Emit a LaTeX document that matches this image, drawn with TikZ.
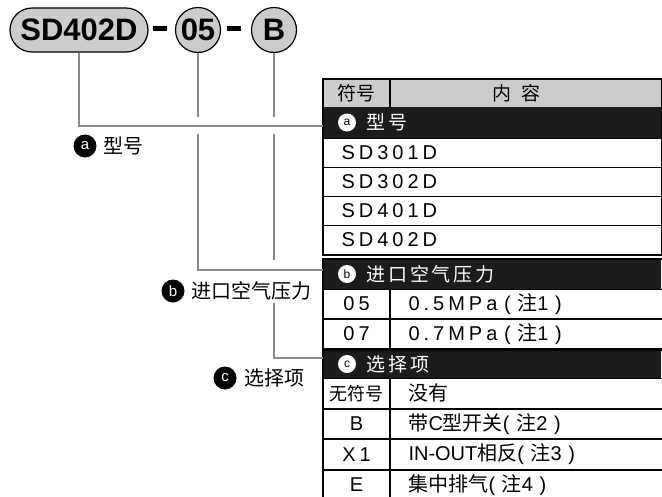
\documentclass[tikz,border=0pt]{standalone}
\usepackage{fontspec}
\setmainfont{Liberation Sans}
\newfontfamily\cjk{Noto Sans CJK SC}
\newfontfamily\cjkwide[LetterSpace=15]{Noto Sans CJK SC}
\newfontfamily\wide[LetterSpace=20]{Liberation Sans}
\usetikzlibrary{positioning}
\definecolor{capgray}{HTML}{CCCCCC}
\definecolor{leadgray}{HTML}{8A8A8A}
\definecolor{bandblack}{HTML}{1C1C1C}

\begin{document}
\begin{tikzpicture}[
  x=1pt, y=-1pt,
  capsule/.style={draw, line width=1.2pt, fill=capgray, rounded corners=22pt,
    minimum width=138pt, minimum height=44pt, inner sep=0pt,
    font=\fontsize{31}{31}\selectfont\bfseries},
  ring/.style={draw, circle, line width=1.2pt, fill=capgray, minimum size=45pt,
    inner sep=0pt, font=\fontsize{31}{31}\selectfont\bfseries},
  dashbar/.style={fill=black, minimum width=14pt, minimum height=5pt, inner sep=0pt},
  lead/.style={draw=leadgray, line width=2pt},
  tag/.style={circle, fill=black, text=white, minimum size=23pt, inner sep=0pt,
    font=\fontsize{15}{15}\selectfont},
  tagtext/.style={inner sep=0pt, font=\cjk\fontsize{20}{20}\selectfont},
  hcell/.style={draw, line width=1pt, fill=capgray, minimum height=28pt,
    inner sep=0pt, anchor=north west, font=\cjk\fontsize{19}{19}\selectfont},
  band/.style={fill=bandblack, minimum width=338pt, inner sep=0pt, anchor=north west},
  wtag/.style={circle, fill=white, minimum size=18pt, inner sep=0pt,
    font=\fontsize{12}{12}\selectfont},
  bandtext/.style={text=white, inner sep=0pt, font=\cjkwide\fontsize{19}{19}\selectfont},
  cell/.style={draw, line width=1pt, minimum height=29pt, inner sep=0pt,
    anchor=north west, font=\fontsize{20}{20}\selectfont},
  code/.style={cell, minimum width=66pt},
  item/.style={cell, minimum width=272pt, text width=236pt, align=left},
  outline/.style={draw, line width=2.4pt},
]
\useasboundingbox (0,0) rectangle (662,496);

% model code on top
\node[capsule] (model) at (79,30) {SD402D};
\node[dashbar] (d1) at (160,28) {};
\node[ring] (pres) at (198,30) {05};
\node[dashbar] (d2) at (234,28) {};
\node[ring] (opt) at (274,30) {B};

% labels on the left
\node[tag] (ta) at (85,146) {a};
\node[tagtext, right=7pt of ta] (la) {型号};
\node[tag] (tb) at (173,291) {b};
\node[tagtext, right=7pt of tb] (lb) {进口空气压力};
\node[tag] (tc) at (225,378) {c};
\node[tagtext, right=8pt of tc] (lc) {选择项};

% table a
\node[hcell, minimum width=66pt] (h1) at (323,79) {符号};
\node[hcell, minimum width=272pt] (h2) at (h1.north east) {\hspace*{-20pt}内\hspace{11pt}容};
\node[band, minimum height=31pt] (hdrA) at (323,107) {};
\node[wtag] (wa) at (347,122.5) {a};
\node[bandtext, right=10pt of wa] (ba) {型号};
\foreach \t [count=\i] in {SD301D,SD302D,SD401D,SD402D}
  \node[cell, minimum width=338pt, text width=302pt, align=left] (ra\i) at (323,109+29*\i) {\wide \t};
\draw[outline] (h1.north west) rectangle (ra4.south east);

% table b
\node[band, minimum height=30pt] (hdrB) at (323,259) {};
\node[wtag] (wb) at (347,274) {b};
\node[bandtext, right=10pt of wb] (bb) {进口空气压力};
\node[code] (rb1a) at (323,289) {\wide 05};
\node[item] (rb1b) at (rb1a.north east) {\wide 0.5MPa ( \cjk 注\wide 1 )};
\node[code] (rb2a) at (rb1a.south west) {\wide 07};
\node[item] (rb2b) at (rb2a.north east) {\wide 0.7MPa ( \cjk 注\wide 1 )};
\draw[outline] (hdrB.north west) rectangle (rb2b.south east);

% table c
\node[band, minimum height=28pt] (hdrC) at (323,350) {};
\node[wtag] (wc) at (347,364) {c};
\node[bandtext, right=10pt of wc] (bc) {选择项};
\node[code, minimum height=29.5pt] (rc1a) at (323,378) {\cjk\fontsize{18}{18}\selectfont 无符号};
\node[item, minimum height=29.5pt] (rc1b) at (rc1a.north east) {\cjk 没有};
\node[code, minimum height=29.5pt] (rc2a) at (rc1a.south west) {B};
\node[item, minimum height=29.5pt] (rc2b) at (rc2a.north east) {\cjk 带\rmfamily C\cjk 型开关\rmfamily( \cjk 注\wide 2 )};
\node[code, minimum height=29.5pt] (rc3a) at (rc2a.south west) {\wide X1};
\node[item, minimum height=29.5pt] (rc3b) at (rc3a.north east) {IN-OUT\cjk 相反\rmfamily( \cjk 注\wide 3 )};
\node[code, minimum height=29.5pt] (rc4a) at (rc3a.south west) {E};
\node[item, minimum height=29.5pt] (rc4b) at (rc4a.north east) {\cjk 集中排气\rmfamily( \cjk 注\wide 4 )};
\draw[outline] (hdrC.north west) rectangle (rc4b.south east);

% leader lines
\coordinate (b1) at (198,117);
\coordinate (b2) at (198,134);
\coordinate (c1) at (274,117);
\coordinate (c2) at (274,134);
\coordinate (c3) at (274,260);
\coordinate (c4) at (274,303);
\draw[lead] (model.south) |- ([yshift=-3pt]hdrA.west);
\draw[lead] (pres.south) -- (b1);
\draw[lead] (b2) |- ([yshift=4pt]hdrB.west);
\draw[lead] (opt.south) -- (c1);
\draw[lead] (c2) -- (c3);
\draw[lead] (c4) |- ([yshift=6pt]hdrC.west);

\end{tikzpicture}
\end{document}
